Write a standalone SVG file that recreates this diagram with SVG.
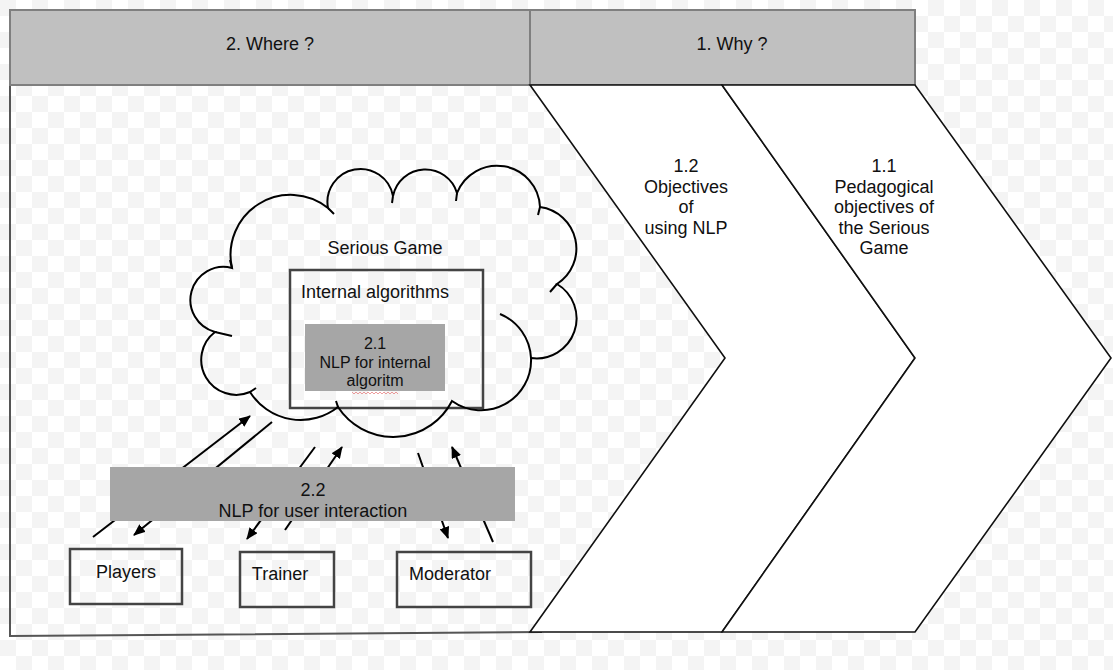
<svg xmlns="http://www.w3.org/2000/svg" width="1113" height="670" viewBox="0 0 1113 670">
<style>
text{font-family:"Liberation Sans",Arial,sans-serif;fill:#111;text-anchor:middle}
.t18{font-size:18px}
.t16{font-size:16px}
.hdr{fill:#c0c0c0;stroke:#7f7f7f;stroke-width:2}
.box{fill:none;stroke:#444;stroke-width:2.5}
.gray{fill:#a6a6a6;stroke:none}
.chev{fill:#fff;stroke:#111;stroke-width:1.6;stroke-linejoin:miter}
.arr{stroke:#000;stroke-width:2;fill:none;marker-end:url(#ah)}
.cloud{fill:none;stroke:#000;stroke-width:2}
</style>
<defs>
<pattern id="chk" width="32" height="32" patternUnits="userSpaceOnUse">
<rect width="32" height="32" fill="#ffffff"/>
<rect width="16" height="16" fill="#f4f4f4"/>
<rect x="16" y="16" width="16" height="16" fill="#f4f4f4"/>
</pattern>
<marker id="ah" markerWidth="12" markerHeight="10" refX="11" refY="5" orient="auto" markerUnits="userSpaceOnUse">
<path d="M0,0 L12,5 L0,10 z" fill="#000"/>
</marker>
</defs>
<rect width="1113" height="670" fill="url(#chk)"/>

<g id="frame">
<path d="M10,85 L10,636 L542,632" fill="none" stroke="#555" stroke-width="2"/>
</g>

<g id="header-where">
<rect class="hdr" x="10" y="10" width="520" height="75"/>
<text class="t18" x="270" y="50">2. Where ?</text>
</g>
<g id="header-why">
<rect class="hdr" x="530" y="10" width="385" height="75"/>
<text class="t18" x="732" y="50">1. Why ?</text>
</g>

<g id="chevron-1-2">
<polygon class="chev" points="530,85 722,85 915,358 722,632 530,632 725,358"/>
<text class="t18" x="686" y="172">1.2</text>
<text class="t18" x="686" y="192.5">Objectives</text>
<text class="t18" x="686" y="213">of</text>
<text class="t18" x="686" y="233.5">using NLP</text>
</g>
<g id="chevron-1-1">
<polygon class="chev" points="722,85 915,85 1111,358 915,632 722,632 915,358"/>
<text class="t18" x="884" y="172">1.1</text>
<text class="t18" x="884" y="192.5">Pedagogical</text>
<text class="t18" x="884" y="213">objectives of</text>
<text class="t18" x="884" y="233.5">the Serious</text>
<text class="t18" x="884" y="254">Game</text>
</g>

<g id="internal-algorithms">
<rect class="box" x="290" y="270" width="193" height="138"/>
<text class="t18" x="301" y="298" style="text-anchor:start">Internal algorithms</text>
</g>
<g id="nlp-internal">
<rect class="gray" x="305" y="324" width="140" height="67"/>
<text class="t16" x="375" y="349">2.1</text>
<text class="t16" x="375" y="368">NLP for internal</text>
<text class="t16" x="375" y="386">algoritm</text>
<path d="M352,392 l2,2 l2,-2 l2,2 l2,-2 l2,2 l2,-2 l2,2 l2,-2 l2,2 l2,-2 l2,2 l2,-2 l2,2 l2,-2 l2,2 l2,-2 l2,2 l2,-2 l2,2 l2,-2 l2,2 l2,-2 l2,2" fill="none" stroke="#e05050" stroke-width="0.8" opacity="0.7"/>
</g>

<g id="serious-game">
<path class="cloud" d="M232,268 A60,60 0 0 1 328,208 A33,33 0 0 1 393,196 A33,33 0 0 1 457,193 A43,43 0 0 1 540,207 A42,42 0 0 1 557,284 A40,40 0 0 1 531,358 A50,50 0 0 1 452,401 A66,66 0 0 1 338,407 A60,60 0 0 1 250,392 A35,35 0 0 1 215,332 A33,33 0 0 1 232,268 Z"/>
<path class="cloud" d="M500,314 A50,50 0 0 1 531,358 M328,208 L334,214 M393,196 L392,203 M457,193 L456,201 M540,207 L538,215 M557,284 L550,292 M215,332 L232,336 M250,392 L256,388 M338,407 L336,401 M232,268 L230,260"/>
<text class="t18" x="385" y="254">Serious Game</text>
</g>

<g id="connectors">
<line class="arr" x1="93" y1="537" x2="250" y2="416"/>
<line class="arr" x1="272" y1="422" x2="134" y2="535"/>
<line class="arr" x1="315" y1="447" x2="247" y2="539"/>
<line class="arr" x1="285" y1="530" x2="342" y2="447"/>
<line class="arr" x1="418" y1="453" x2="448" y2="538"/>
<line class="arr" x1="493" y1="542" x2="452" y2="447"/>
</g>

<g id="nlp-user-interaction">
<rect class="gray" x="110" y="467" width="405" height="54"/>
<text class="t18" x="313" y="496">2.2</text>
<text class="t18" x="313" y="517">NLP for user interaction</text>
</g>

<g id="players">
<rect class="box" x="70" y="549" width="112" height="55"/>
<text class="t18" x="126" y="578">Players</text>
</g>
<g id="trainer">
<rect class="box" x="240" y="552" width="94" height="55"/>
<text class="t18" x="280" y="580">Trainer</text>
</g>
<g id="moderator">
<rect class="box" x="397" y="552" width="134" height="55"/>
<text class="t18" x="450" y="580">Moderator</text>
</g>
</svg>
